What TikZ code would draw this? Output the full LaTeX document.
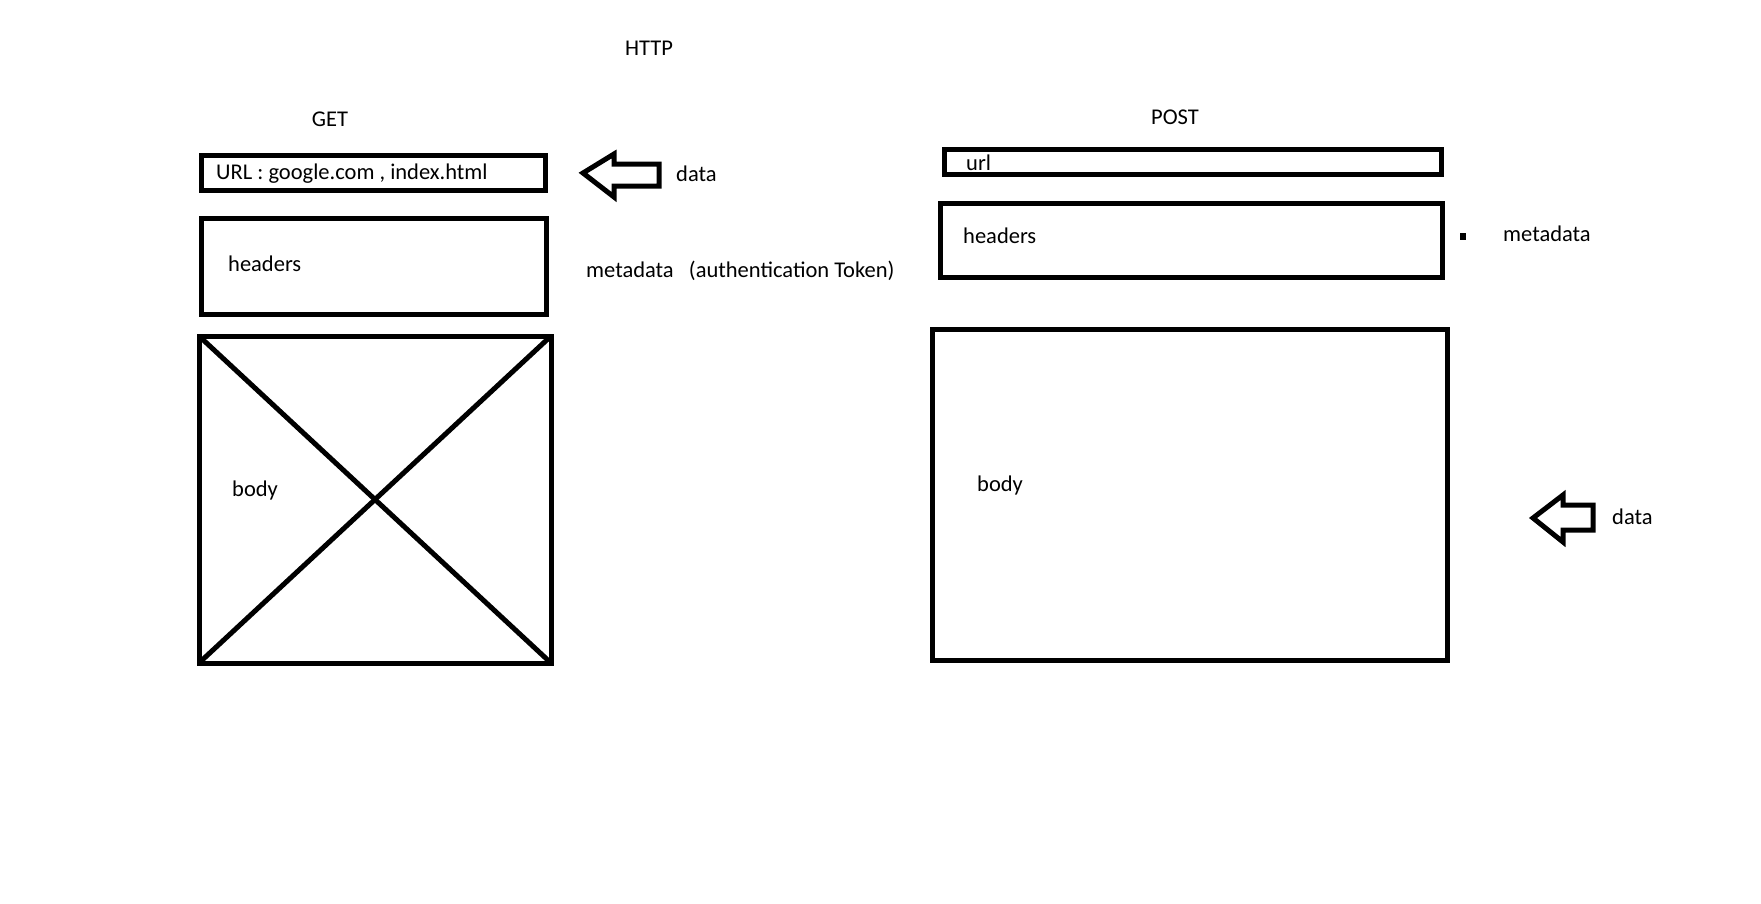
\documentclass[tikz,border=0pt]{standalone}
\usepackage{fontspec}
\setmainfont{Carlito}
\begin{document}
\begin{tikzpicture}[x=1pt,y=-1pt,
  box/.style={draw=black,line width=5pt,minimum width=#1,inner sep=0pt,outer sep=0pt},
  lbl/.style={inner sep=0pt,anchor=west,font=\fontsize{22.5}{26}\selectfont},
  ttl/.style={inner sep=0pt,font=\fontsize{22.5}{26}\selectfont},
  bigarrow/.style={draw=black,line width=5pt,line join=miter}]
\useasboundingbox[fill=white] (0,0) rectangle (1761,903);

% titles
\node[ttl] (http) at (649,48) {HTTP};
\node[ttl] (get) at (330,119) {GET};
\node[ttl] (post) at (1175,117) {POST};

% GET request
\node[box=344pt,minimum height=35pt] (geturl) at (373,172.5) {};
\node[lbl] (geturltxt) at (216,174) {URL : google.com , index.html};
\node[box=345pt,minimum height=96pt] (gethead) at (373.5,266) {};
\node[lbl] (getheadtxt) at (228,264) {headers};
\node[box=352pt,minimum height=327pt] (getbody) at (375,499.5) {};
\draw[line width=5pt] (getbody.north west) -- (getbody.south east);
\draw[line width=5pt] (getbody.south west) -- (getbody.north east);
\node[lbl] (getbodytxt) at (232,490) {body};

% data goes into the URL for GET
\draw[bigarrow] (583,173) -- (614,154) -- (614,164) -- (659,164) -- (659,186)
  -- (614,186) -- (614,197) -- cycle;
\node[lbl] (getdata) at (676,174) {data};
\node[lbl] (getmeta) at (586,271) {metadata\ \ \ (authentication Token)};

% POST request
\node[box=497pt,minimum height=25pt] (posturl) at (1192.5,161.5) {};
\node[lbl] (posturltxt) at (966,163) {url};
\node[box=502pt,minimum height=74pt] (posthead) at (1191,240) {};
\node[lbl] (postheadtxt) at (963,236) {headers};
\node[box=515pt,minimum height=331pt] (postbody) at (1189.5,494.5) {};
\node[lbl] (postbodytxt) at (977,485) {body};

\fill (1460,233) rectangle (1466,240);
\node[lbl] (postmeta) at (1503,234) {metadata};

% data goes into the body for POST
\draw[bigarrow] (1533,518) -- (1563,495) -- (1563,505) -- (1593,505) -- (1593,530)
  -- (1563,530) -- (1563,542) -- cycle;
\node[lbl] (postdata) at (1612,517) {data};
\end{tikzpicture}
\end{document}
